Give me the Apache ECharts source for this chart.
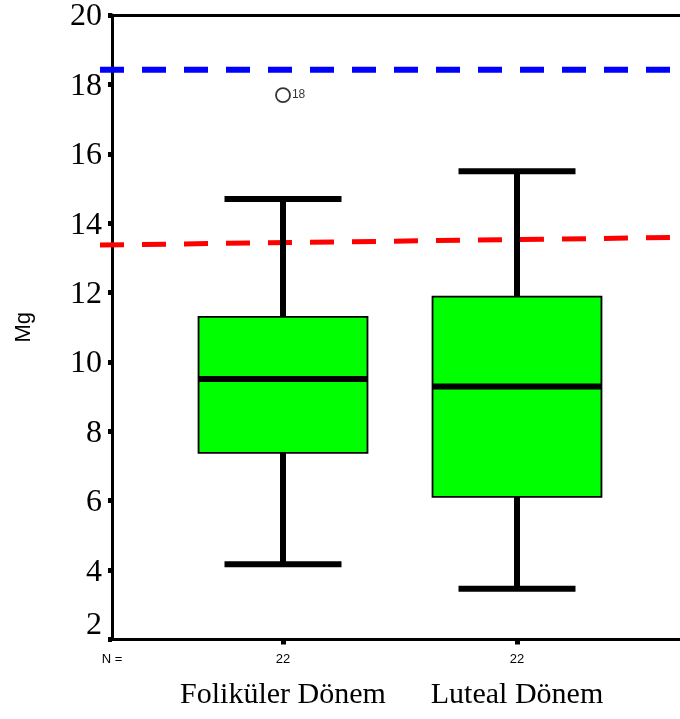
<!DOCTYPE html>
<html>
<head>
<meta charset="utf-8">
<title>Mg</title>
<script src="https://cdn.jsdelivr.net/npm/echarts@6/dist/echarts.min.js"></script>
<style>
  html, body { margin: 0; padding: 0; background: #fff; }
  #chart { width: 680px; height: 719px; }
</style>
</head>
<body>
<div id="chart"></div>
<script>
// Groups and box-plot statistics (Mg)
const categories = ['Foliküler Dönem', 'Luteal Dönem'];
const nCounts = [22, 22];
const lowWhisker = [4.17, 3.46];
const q1 = [7.38, 6.11];
const median = [9.51, 9.29];
const q3 = [11.30, 11.88];
const highWhisker = [14.70, 15.50];

// Outliers: group index, value, case number
const outlierGroup = [0];
const outlierValue = [17.69];
const outlierCase = ['18'];

// Reference lines (value at the left end, value at the right end)
const blueRef = [18.42, 18.42];
const redRef = [13.37, 13.59];

// Y axis ticks
const yMin = 2, yMax = 20, yStep = 2;

// Horizontal extent of the plot (groups sit at 1 and 2)
const X_MIN = 0.2692;
const X_MAX = 2.6966;
const BOX_WIDTH = 0.722;
const CAP_WIDTH = 0.5;

const chart = echarts.init(document.getElementById('chart'), null, { renderer: 'canvas' });

const boxData = categories.map((c, i) => [i + 1, lowWhisker[i], q1[i], median[i], q3[i], highWhisker[i]]);
const outlierData = outlierGroup.map((g, i) => ({ value: [g + 1, outlierValue[i]], caseId: outlierCase[i] }));

function renderBox(params, api) {
  const x = api.value(0);
  const pLow = api.coord([x, api.value(1)]);
  const pQ1 = api.coord([x, api.value(2)]);
  const pMed = api.coord([x, api.value(3)]);
  const pQ3 = api.coord([x, api.value(4)]);
  const pHigh = api.coord([x, api.value(5)]);
  const bw = api.size([BOX_WIDTH, 0])[0];
  const cw = api.size([CAP_WIDTH, 0])[0];
  const cx = pMed[0];
  const lineStyle = { stroke: '#000', lineWidth: 6, lineCap: 'butt' };
  return {
    type: 'group',
    children: [
      { type: 'line', shape: { x1: cx, y1: pQ3[1], x2: cx, y2: pHigh[1] }, style: lineStyle },
      { type: 'line', shape: { x1: cx, y1: pQ1[1], x2: cx, y2: pLow[1] }, style: lineStyle },
      { type: 'line', shape: { x1: cx - cw / 2, y1: pHigh[1], x2: cx + cw / 2, y2: pHigh[1] }, style: lineStyle },
      { type: 'line', shape: { x1: cx - cw / 2, y1: pLow[1], x2: cx + cw / 2, y2: pLow[1] }, style: lineStyle },
      { type: 'rect', shape: { x: cx - bw / 2, y: pQ3[1], width: bw, height: pQ1[1] - pQ3[1] },
        style: { fill: '#00ff00', stroke: '#000', lineWidth: 1.8 } },
      { type: 'line', shape: { x1: cx - bw / 2, y1: pMed[1], x2: cx + bw / 2, y2: pMed[1] }, style: lineStyle }
    ]
  };
}

const hiddenAxis = {
  show: false, splitLine: { show: false }, axisLine: { show: false },
  axisTick: { show: false }, axisLabel: { show: false }
};

const option = {
  animation: false,
  backgroundColor: '#ffffff',
  grid: [
    { left: 112, right: 0, top: 15, bottom: 79.5, outerBoundsMode: 'none' },
    // reference lines run a little past the value axis on the left
    { left: 100, right: 0, top: 15, bottom: 79.5, outerBoundsMode: 'none' }
  ],
  xAxis: [
    {
      type: 'value', gridIndex: 0, min: X_MIN, max: X_MAX, position: 'bottom',
      splitLine: { show: false },
      axisLine: { show: true, onZero: false, lineStyle: { color: '#000', width: 3 } },
      axisTick: { show: true, customValues: [1, 2], length: 5, lineStyle: { color: '#000', width: 5 } },
      axisLabel: {
        customValues: [X_MIN, 1, 2],
        margin: 9,
        color: '#000',
        formatter: function (v) {
          if (Math.abs(v - X_MIN) < 1e-6) return '{n|N =}';
          const i = Math.round(v) - 1;
          return '{n|' + nCounts[i] + '}\n{c|' + categories[i] + '}';
        },
        rich: {
          n: { fontFamily: 'Liberation Sans', fontSize: 13, lineHeight: 22, color: '#000' },
          c: { fontFamily: 'Liberation Serif', fontSize: 30, lineHeight: 50, color: '#000' }
        }
      }
    },
    {
      type: 'value', gridIndex: 0, min: X_MIN, max: X_MAX, position: 'top',
      splitLine: { show: false },
      axisLine: { show: true, onZero: false, lineStyle: { color: '#000', width: 3 } },
      axisTick: { show: false },
      axisLabel: { show: false }
    },
    Object.assign({ type: 'value', gridIndex: 1, min: 0, max: 1 }, hiddenAxis)
  ],
  yAxis: [
    {
      type: 'value', gridIndex: 0, min: yMin, max: yMax, interval: yStep,
      splitLine: { show: false },
      axisLine: { show: true, onZero: false, lineStyle: { color: '#000', width: 3 } },
      axisTick: { show: true, length: 4, lineStyle: { color: '#000', width: 5 } },
      axisLabel: {
        fontFamily: 'Liberation Serif', fontSize: 32, color: '#000', margin: 10,
        formatter: function (v) { return v === yMin ? '{low|' + v + '}' : '{t|' + v + '}'; },
        rich: {
          t: { fontFamily: 'Liberation Serif', fontSize: 32, color: '#000', padding: [4, 0, 0, 0] },
          low: { fontFamily: 'Liberation Serif', fontSize: 32, color: '#000', padding: [0, 0, 28, 0] }
        }
      },
      name: 'Mg',
      nameLocation: 'middle',
      nameGap: 77,
      nameTextStyle: { fontFamily: 'Liberation Sans', fontSize: 22, color: '#000' }
    },
    Object.assign({ type: 'value', gridIndex: 1, min: yMin, max: yMax }, hiddenAxis)
  ],
  series: [
    {
      type: 'line', name: 'blueRef', xAxisIndex: 2, yAxisIndex: 1, symbol: 'none', z: 2, silent: true,
      data: [[0, blueRef[0]], [1, blueRef[1]]],
      lineStyle: { color: '#0000ff', width: 6, type: [24, 18], cap: 'butt' }
    },
    {
      type: 'line', name: 'redRef', xAxisIndex: 2, yAxisIndex: 1, symbol: 'none', z: 2, silent: true,
      data: [[0, redRef[0]], [1, redRef[1]]],
      lineStyle: { color: '#ff0000', width: 5, type: [24, 18], cap: 'butt' }
    },
    {
      type: 'custom', name: 'box', xAxisIndex: 0, yAxisIndex: 0, z: 3,
      renderItem: renderBox,
      encode: { x: 0, y: [1, 2, 3, 4, 5] },
      data: boxData
    },
    {
      type: 'scatter', name: 'outlier', xAxisIndex: 0, yAxisIndex: 0, z: 4,
      symbol: 'circle', symbolSize: 14,
      itemStyle: { color: '#fff', borderColor: '#000', borderWidth: 1.8 },
      label: {
        show: true, position: 'right', distance: 1,
        fontFamily: 'Liberation Sans', fontSize: 12, color: '#000',
        formatter: function (p) { return p.data.caseId; }
      },
      data: outlierData
    }
  ]
};

chart.setOption(option);
</script>
</body>
</html>
